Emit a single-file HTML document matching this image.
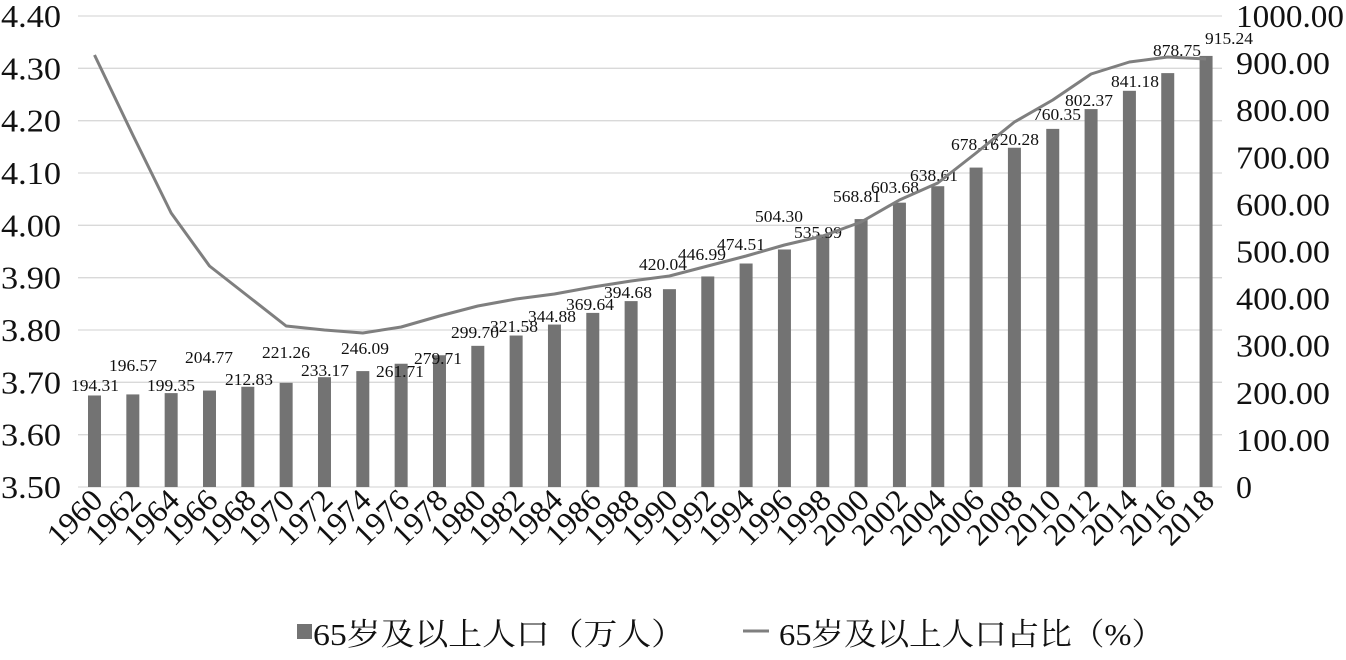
<!DOCTYPE html>
<html><head><meta charset="utf-8"><style>body{margin:0;background:#fff}svg{display:block}</style></head>
<body>
<svg id="c" width="1346" height="660" xmlns="http://www.w3.org/2000/svg" font-family="'Liberation Serif','Noto Serif CJK SC',serif" fill="#111"></svg>
<script>
(function(){
const s=document.getElementById('c');let h='';
const T=16,B=487,L=78,R=1222;
for(let i=0;i<=9;i++){const y=T+(B-T)*i/9;h+=`<line x1="${L}" x2="${R}" y1="${y}" y2="${y}" stroke="#d9d9d9" stroke-width="1.3"/>`;
h+=`<text x="1" y="${y+11}" font-size="32" textLength="60" lengthAdjust="spacingAndGlyphs">${(4.4-i*0.1).toFixed(2)}</text>`;}
for(let i=0;i<=10;i++){const y=T+(B-T)*i/10;const t=i==10?'0':(1000-i*100).toFixed(2);
h+=`<text x="1236" y="${y+11}" font-size="32" ${i==10?'':'textLength="'+(i==0?108:94)+'" lengthAdjust="spacingAndGlyphs"'}>${t}</text>`;}
const v=[194.31,196.57,199.35,204.77,212.83,221.26,233.17,246.09,261.71,279.71,299.70,321.58,344.88,369.64,394.68,420.04,446.99,474.51,504.30,535.99,568.81,603.68,638.61,678.16,720.28,760.35,802.37,841.18,878.75,915.24];
const lp=[[95,385],[133,365],[171,385],[209,357],[249,379],[286,352],[325,370],[365,348],[400,371],[438,358],[475,332],[514,326],[552,316],[590,304],[628,292],[663,264],[702,254],[741,244],[779,216],[818,232],[857,196],[895,187],[934,175],[975,144],[1015,139],[1057,114],[1089,100],[1135,81],[1177,50],[1229,38]];
const ly=[55,135,213,266,296,326,330,333,327,316,306,299,294,287,281,276,266,256,245,236,222,200,183,153,122,100,74,62,57,59];
let pts=[];
v.forEach((d,i)=>{const cx=94.5+i*38.33;const y=B-d*(B-T)/1000;
h+=`<rect x="${cx-6.5}" y="${y}" width="13" height="${B-y}" fill="#737373"/>`;
pts.push(cx+','+ly[i]);
h+=`<text x="${lp[i][0]}" y="${lp[i][1]+6}" font-size="17" text-anchor="middle" textLength="48" lengthAdjust="spacingAndGlyphs">${d.toFixed(2)}</text>`;
h+=`<text transform="translate(${cx+10},502) rotate(-45)" font-size="31" text-anchor="end" textLength="64" lengthAdjust="spacingAndGlyphs">${1960+2*i}</text>`;});
h+=`<polyline points="${pts.join(' ')}" fill="none" stroke="#7f7f7f" stroke-width="3" stroke-linejoin="round"/>`;
h+=`<rect x="297" y="624" width="15" height="15" fill="#737373"/>`;
h+=`<text x="313" y="645" font-size="31" textLength="372" lengthAdjust="spacingAndGlyphs">65岁及以上人口（万人）</text>`;
h+=`<line x1="743" x2="769" y1="631" y2="631" stroke="#7f7f7f" stroke-width="3"/>`;
h+=`<text x="779" y="645" font-size="31" textLength="385" lengthAdjust="spacingAndGlyphs">65岁及以上人口占比（%）</text>`;
s.innerHTML=h;
})();
</script>
</body></html>
